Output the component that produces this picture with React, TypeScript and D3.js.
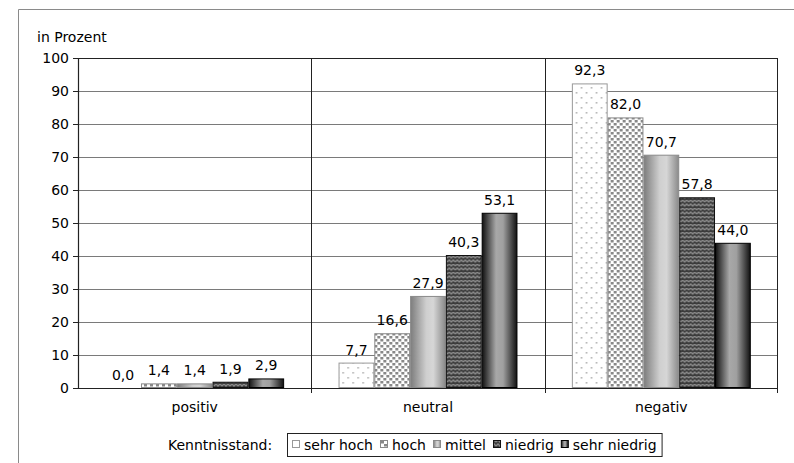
import React from "react";
import * as d3 from "d3";

const categories = ["positiv", "neutral", "negativ"];
const series = ["sehr hoch", "hoch", "mittel", "niedrig", "sehr niedrig"];
const values: number[][] = [
  // per category: sehr hoch, hoch, mittel, niedrig, sehr niedrig
  [0.0, 1.4, 1.4, 1.9, 2.9],
  [7.7, 16.6, 27.9, 40.3, 53.1],
  [92.3, 82.0, 70.7, 57.8, 44.0],
];
const yTicks = [0, 10, 20, 30, 40, 50, 60, 70, 80, 90, 100];

const fills = ["url(#pSehrHoch)", "url(#pHoch)", "url(#gMittel)", "url(#pNiedrig)", "url(#gSehrNiedrig)"];
const strokes = ["#999", "#8a8a8a", "#8a8a8a", "#111", "#000"];

const FONT = "'DejaVu Sans', Verdana, sans-serif";
const FS = 14;

function measure(txt: string): number {
  const c = document.createElement("canvas").getContext("2d");
  if (!c) return txt.length * 8;
  c.font = `${FS}px 'DejaVu Sans'`;
  return c.measureText(txt).width;
}

export default function App() {
  const W = 794, H = 463;
  const left = 78, right = 778, top = 58, bottom = 388;
  const x0 = d3.scaleBand<string>().domain(categories).range([left, right]).paddingInner(0).paddingOuter(0);
  const x1 = d3.scaleBand<string>().domain(series).range([0, x0.bandwidth()]).paddingInner(0).paddingOuter(0.76);
  const y = d3.scaleLinear().domain([0, 100]).range([bottom, top]);
  const fmt = (v: number) => v.toFixed(1).replace(".", ",");

  // legend layout
  const legendX = 287, legendY = 433, legendH = 23;
  const sw = 8, gapST = 4, gapTS = 7, margin = 5;
  const items: { x: number; tx: number }[] = [];
  let cx = legendX + margin;
  series.forEach((s, i) => {
    items.push({ x: cx, tx: cx + sw + gapST });
    cx += sw + gapST + measure(s) + (i < series.length - 1 ? gapTS : 0);
  });
  const legendW = cx + margin - legendX;

  return (
    <svg width={W} height={H} style={{ position: "absolute", left: 0, top: 0 }} fontFamily={FONT}>
      <defs>
        <pattern id="pSehrHoch" width="10" height="10" patternUnits="userSpaceOnUse">
          <rect width="10" height="10" fill="#fff" />
          <rect x="1" y="2" width="1.6" height="1.6" fill="#b0b0b0" />
          <rect x="6" y="7" width="1.6" height="1.6" fill="#b0b0b0" />
        </pattern>
        <pattern id="pHoch" width="6" height="6" patternUnits="userSpaceOnUse">
          <rect width="6" height="6" fill="#fff" />
          <rect x="0" y="0" width="3" height="2.5" fill="#888" />
          <rect x="3" y="3" width="3" height="2.5" fill="#888" />
        </pattern>
        <pattern id="pNiedrig" width="8" height="8" patternUnits="userSpaceOnUse">
          <rect width="8" height="8" fill="#3c3c3c" />
          <path d="M0,2 L2,0 L4,2 L6,0 L8,2 M0,6 L2,4 L4,6 L6,4 L8,6" stroke="#8a8a8a" strokeWidth="1.4" fill="none" />
        </pattern>
        <linearGradient id="gMittel" x1="0" x2="1" y1="0" y2="0">
          <stop offset="0%" stopColor="#7d7d7d" />
          <stop offset="45%" stopColor="#cfcfcf" />
          <stop offset="65%" stopColor="#d6d6d6" />
          <stop offset="100%" stopColor="#8a8a8a" />
        </linearGradient>
        <linearGradient id="gSehrNiedrig" x1="0" x2="1" y1="0" y2="0">
          <stop offset="0%" stopColor="#111" />
          <stop offset="40%" stopColor="#a8a8a8" />
          <stop offset="60%" stopColor="#a0a0a0" />
          <stop offset="100%" stopColor="#111" />
        </linearGradient>
      </defs>
      <rect width={W} height={H} fill="#fff" />
      {/* outer frame */}
      <path d={`M18.5,${H} L18.5,9.5 L${W},9.5`} fill="none" stroke="#8a8a8a" strokeWidth={1} />
      <text x={37} y={42} fontSize={FS} fill="#000">in Prozent</text>

      {/* gridlines */}
      {yTicks.filter(t => t > 0 && t < 100).map(t => (
        <line key={t} x1={left} x2={right} y1={Math.round(y(t)) + 0.5} y2={Math.round(y(t)) + 0.5} stroke="#7a7a7a" strokeWidth={1} />
      ))}
      {/* group separators */}
      {categories.slice(1).map(c => (
        <line key={c} x1={Math.round(x0(c)!) + 0.5} x2={Math.round(x0(c)!) + 0.5} y1={top} y2={bottom + 5} stroke="#222" strokeWidth={1} />
      ))}
      {/* plot frame top/right */}
      <line x1={left} x2={right} y1={top + 0.5} y2={top + 0.5} stroke="#222" />
      <line x1={right - 0.5} x2={right - 0.5} y1={top} y2={bottom + 5} stroke="#222" />

      {/* bars */}
      {categories.map((c, ci) => (
        <g key={c} transform={`translate(${x0(c)},0)`}>
          {series.map((s, si) => {
            const v = values[ci][si];
            const bx = x1(s)!;
            const bw = x1.bandwidth();
            const by = y(v);
            return (
              <g key={s}>
                {v > 0 && (
                  <rect x={bx + 0.5} y={by + 0.5} width={bw - 1} height={Math.max(0, y(0) - by - 1)} fill={fills[si]} stroke={strokes[si]} strokeWidth={1} />
                )}
                <text x={bx + bw / 2} y={by - 8} textAnchor="middle" fontSize={FS} fill="#000">{fmt(v)}</text>
              </g>
            );
          })}
        </g>
      ))}

      {/* axes */}
      <line x1={left} x2={right} y1={bottom + 0.5} y2={bottom + 0.5} stroke="#222" strokeWidth={1.2} />
      <line x1={left + 0.5} x2={left + 0.5} y1={top} y2={bottom + 1} stroke="#222" strokeWidth={1.2} />
      {yTicks.map(t => (
        <g key={t}>
          <line x1={left - 5} x2={left} y1={Math.round(y(t)) + 0.5} y2={Math.round(y(t)) + 0.5} stroke="#222" />
          <text x={69} y={y(t) + 5} textAnchor="end" fontSize={FS} fill="#000">{t}</text>
        </g>
      ))}
      {categories.map(c => (
        <text key={c} x={x0(c)! + x0.bandwidth() / 2} y={412} textAnchor="middle" fontSize={FS} fill="#000">{c}</text>
      ))}

      {/* legend */}
      <text x={168} y={450} fontSize={FS} fill="#000">Kenntnisstand:</text>
      <rect x={legendX + 0.5} y={legendY + 0.5} width={legendW} height={legendH} fill="#fff" stroke="#222" />
      {series.map((s, si) => (
        <g key={s}>
          <rect x={items[si].x + 0.5} y={440.5} width={sw - 1} height={sw - 1} fill={fills[si]} stroke={strokes[si]} />
          <text x={items[si].tx} y={450} fontSize={FS} fill="#000">{s}</text>
        </g>
      ))}
    </svg>
  );
}
